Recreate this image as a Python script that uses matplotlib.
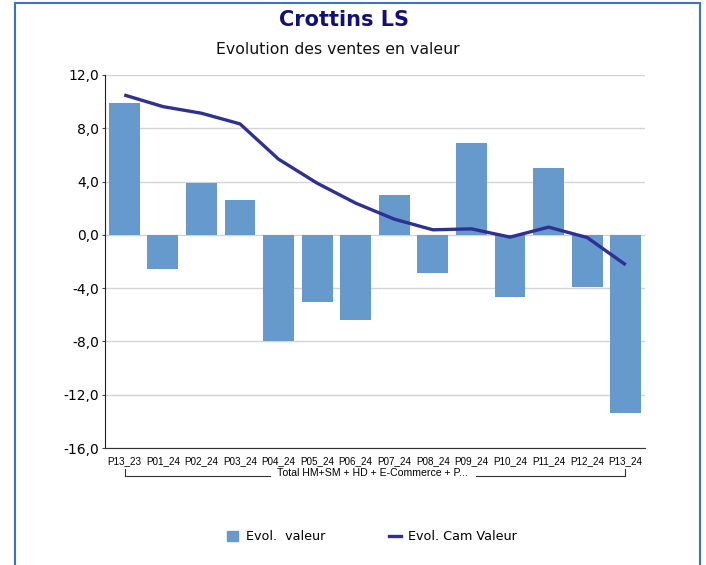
import matplotlib
matplotlib.use("Agg")
import matplotlib.pyplot as plt
from matplotlib.patches import Rectangle
from matplotlib.lines import Line2D
import numpy as np

categories = ["P13_23", "P01_24", "P02_24", "P03_24", "P04_24", "P05_24", "P06_24",
              "P07_24", "P08_24", "P09_24", "P10_24", "P11_24", "P12_24", "P13_24"]
evol_valeur = [9.9, -2.55, 3.92, 2.58, -8.0, -5.07, -6.42, 3.0, -2.85, 6.92, -4.65, 5.02, -3.9, -13.4]
evol_cam = [10.5, 9.63, 9.13, 8.33, 5.68, 3.88, 2.38, 1.18, 0.38, 0.45, -0.17, 0.58, -0.2, -2.25]
yticks = [12, 8, 4, 0, -4, -8, -12, -16]
group_label = "Total HM+SM + HD + E-Commerce + P..."

plt.rcParams['font.family'] = ['DejaVu Sans']
narrow = ['Liberation Sans', 'DejaVu Sans']

fig = plt.figure(figsize=(7.06, 5.65), dpi=100)
W, H = 706, 565
ax = fig.add_axes([105 / W, 1 - 448 / H, (645 - 105) / W, (448 - 75) / H])

x = np.arange(len(categories))
ax.bar(x, evol_valeur, width=0.8, color='#6699cc', zorder=2)
ax.plot(x, evol_cam, color='#2e3192', lw=2.4, zorder=3, solid_capstyle='butt')

ax.set_xlim(-0.5, len(categories) - 0.5)
ax.set_ylim(-16, 12)
ax.set_yticks(yticks)
ax.set_yticklabels([f"{v:.1f}".replace('.', ',') for v in yticks], fontsize=10)
ax.yaxis.grid(True, color='#d4d4d4', lw=1, zorder=0)
ax.set_axisbelow(True)
for s in ['top', 'right']:
    ax.spines[s].set_visible(False)
ax.spines['left'].set_color('#222222')
ax.spines['bottom'].set_color('#333333')
ax.tick_params(axis='y', length=2, color='#444444', pad=2)
ax.set_xticks(x)
ax.set_xticklabels(categories, fontsize=7.1, family=narrow)
ax.tick_params(axis='x', length=0, pad=6)

# group label with bracket
fig.text(372 / W, 1 - 472.5 / H, group_label, ha='center', va='center', fontsize=7.6,
         family=narrow)
yb = 1 - 476 / H
ytop = 1 - 469 / H
fig.add_artist(Line2D([125 / W, 270 / W], [yb, yb], color='#333333', lw=0.8))
fig.add_artist(Line2D([476 / W, 625 / W], [yb, yb], color='#333333', lw=0.8))
fig.add_artist(Line2D([125 / W, 125 / W], [yb, ytop], color='#333333', lw=0.8))
fig.add_artist(Line2D([625 / W, 625 / W], [yb, ytop], color='#333333', lw=0.8))

# titles
fig.text(344 / W, 1 - 20 / H, "Crottins LS", ha='center', va='center', fontsize=15,
         fontweight='bold', color='#10107a')
fig.text(338 / W, 1 - 50 / H, "Evolution des ventes en valeur", ha='center', va='center',
         fontsize=11.3, color='#111111')

# legend
handles = [Rectangle((0, 0), 1, 1, color='#6699cc'),
           Line2D([0], [0], color='#2e3192', lw=2.4)]
fig.legend(handles, ["Evol.  valeur", "Evol. Cam Valeur"], loc='center',
           bbox_to_anchor=(372 / W, 1 - 537 / H), ncol=2, frameon=False, fontsize=9.2,
           handlelength=0.9, handleheight=0.9, columnspacing=5.0, handletextpad=0.6)

# frame border
fig.add_artist(Rectangle((15 / W, -0.01), (700 - 15) / W, 1 - 3 / H + 0.01,
                         fill=False, edgecolor='#3a75c4', lw=1.5, transform=fig.transFigure))

fig.savefig("out.png", dpi=100)
